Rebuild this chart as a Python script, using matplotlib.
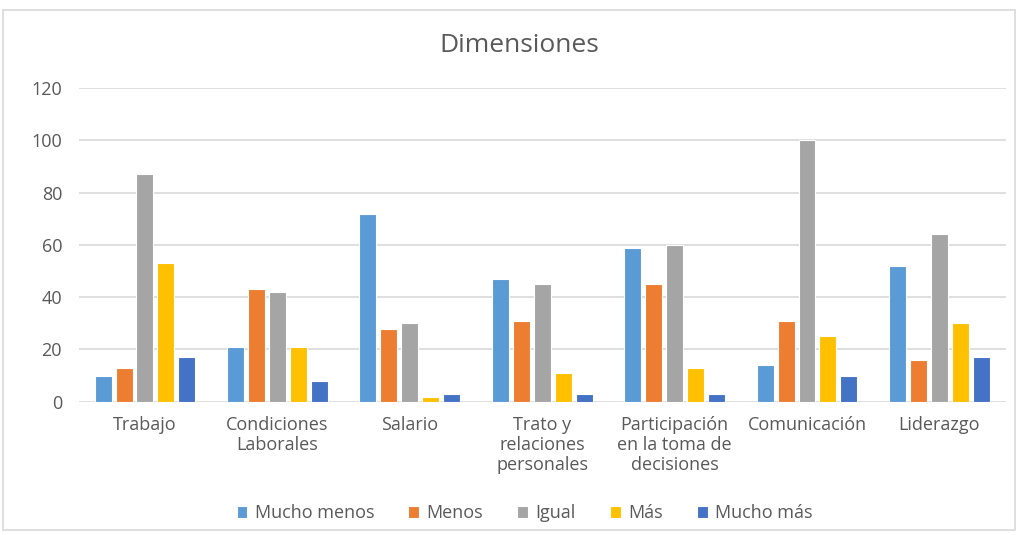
import numpy as np
import matplotlib.pyplot as plt
from matplotlib.patches import Rectangle

categories = ["Trabajo", "Condiciones\nLaborales", "Salario", "Trato y\nrelaciones\npersonales",
              "Participación\nen la toma de\ndecisiones", "Comunicación", "Liderazgo"]
series = ["Mucho menos", "Menos", "Igual", "Más", "Mucho más"]
mucho_menos = [10, 21, 72, 47, 59, 14, 52]
menos = [13, 43, 28, 31, 45, 31, 16]
igual = [87, 42, 30, 45, 60, 100, 64]
mas = [53, 21, 2, 11, 13, 25, 30]
mucho_mas = [17, 8, 3, 3, 3, 10, 17]
values = [mucho_menos, menos, igual, mas, mucho_mas]
colors = ["#5B9BD5", "#ED7D31", "#A5A5A5", "#FFC000", "#4472C4"]

plt.rcParams['font.family'] = ['Open Sans', 'DejaVu Sans']
txt = "#595959"

fig = plt.figure(figsize=(10.23, 5.35), dpi=100)
fig.patches.append(Rectangle((3 / 1023, 5 / 535), 1012 / 1023, 520 / 535, transform=fig.transFigure,
                             fill=False, edgecolor="#D9D9D9", linewidth=1.2))
ax = fig.add_axes([0.077, 0.249, 0.906, 0.5865])

x = np.arange(len(categories))
step = 0.158
bw = 0.128
for i, (name, vals) in enumerate(zip(series, values)):
    ax.bar(x + (i - 2) * step, vals, width=bw, color=colors[i], label=name,
           edgecolor="white", linewidth=0.8, zorder=3)

ax.set_xlim(-0.5, len(categories) - 0.5)
ax.set_ylim(0, 120)
ax.set_yticks(range(0, 121, 20))
ax.yaxis.grid(True, color="#D9D9D9", linewidth=1.2, zorder=0)
for s in ax.spines.values():
    s.set_visible(False)
ax.tick_params(axis='both', length=0, labelsize=13, colors=txt)
ax.tick_params(axis='y', pad=12)
ax.set_xticks(x)
ax.set_xticklabels(categories, va='top', linespacing=1.15)
ax.tick_params(axis='x', pad=10)

fig.text(0.508, 0.915, "Dimensiones", ha='center', va='center', fontsize=19, color=txt)
ax.legend(loc='center', bbox_to_anchor=(0.481, -0.355), ncol=5, frameon=False, fontsize=13,
          handlelength=0.6, handleheight=0.6, handletextpad=0.4, columnspacing=1.9,
          labelcolor=txt)

fig.savefig("out.png", dpi=100)
